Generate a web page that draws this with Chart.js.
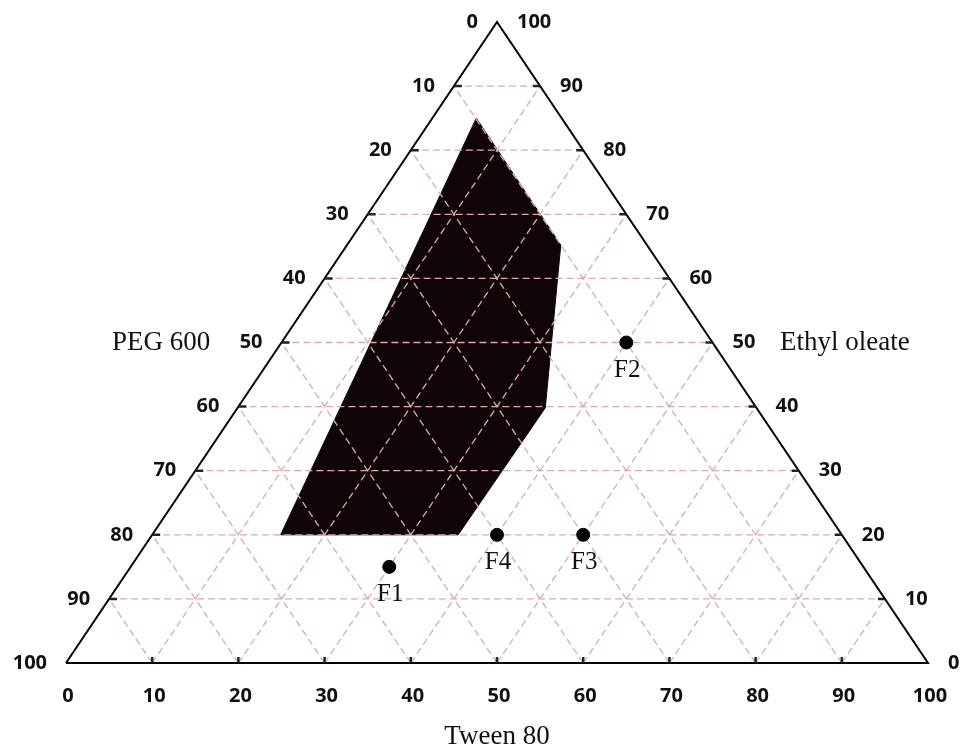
<!DOCTYPE html>
<html>
<head>
<meta charset="utf-8">
<script src="https://cdn.jsdelivr.net/npm/chart.js@4.4.1/dist/chart.umd.min.js"></script>
<style>
	body { margin: 0; background: #fff; }
	#wrap { width: 960px; height: 746px; }
</style>
</head>
<body>
<div id="wrap"><canvas id="ternaryChart" width="960" height="746"></canvas></div>
<script>
// tick levels on the three sides
const tickValues = [0, 10, 20, 30, 40, 50, 60, 70, 80, 90, 100];

// black region (x = Tween 80 reading, y = Ethyl oleate reading)
const regionTween = [47.6, 57.4, 55.6, 45.5, 24.9];
const regionEthyl = [85.0, 65.2, 39.8, 20.0, 20.0];

// formulations
const pointNames = ['F1', 'F2', 'F3', 'F4'];
const pointTween = [37.5, 65, 60, 50];
const pointEthyl = [15, 50, 20, 20];

const axisTitles = { left: 'PEG 600', right: 'Ethyl oleate', bottom: 'Tween 80' };

document.addEventListener('DOMContentLoaded', function() {
	const ctx = document.getElementById('ternaryChart').getContext('2d');

	// dashed grid: horizontal lines and the two diagonal families, split by gaps
	const gridData = [];
	const gap = { x: null, y: null };
	tickValues.slice(1, -1).forEach(v => {
		gridData.push({ x: v / 2, y: v }, { x: 100 - v / 2, y: v }, gap);
		gridData.push({ x: v, y: 0 }, { x: v + (100 - v) / 2, y: 100 - v }, gap);
		gridData.push({ x: v, y: 0 }, { x: v / 2, y: v }, gap);
	});

	const regionData = regionTween.map((x, i) => ({ x: x, y: regionEthyl[i] }));
	regionData.push(regionData[0]);

	const pointData = pointTween.map((x, i) => ({ x: x, y: pointEthyl[i] }));

	const labelPlugin = {
		id: 'ternaryLabels',
		afterDatasetsDraw(chart) {
			const c = chart.ctx;
			const xs = chart.scales.x, ys = chart.scales.y;
			const px = v => xs.getPixelForValue(v);
			const py = v => ys.getPixelForValue(v);
			c.save();

			// small ticks on the sides
			c.strokeStyle = '#222';
			c.lineWidth = 2.5;
			tickValues.slice(1, -1).forEach(v => {
				c.beginPath();
				c.moveTo(px(v / 2), py(v)); c.lineTo(px(v / 2) + 8, py(v));
				c.moveTo(px(100 - v / 2), py(v)); c.lineTo(px(100 - v / 2) - 7, py(v));
				c.moveTo(px(v), py(0)); c.lineTo(px(v), py(0) - 6);
				c.stroke();
			});

			// tick numbers
			c.fillStyle = '#111';
			c.font = 'bold 20px "Open Sans"';
			c.textBaseline = 'middle';
			tickValues.forEach(v => {
				c.textAlign = 'right';
				c.fillText(String(100 - v), px(v / 2) - 19, py(v));
				c.textAlign = 'left';
				c.fillText(String(v), px(100 - v / 2) + 20, py(v));
				c.textAlign = 'center';
				c.fillText(String(v), px(v) + 2, py(0) + 33);
			});

			// axis titles
			c.font = '27px "Liberation Serif"';
			c.textAlign = 'left';
			c.fillText(axisTitles.left, 112, py(50));
			c.fillText(axisTitles.right, 780, py(50));
			c.textAlign = 'center';
			c.textBaseline = 'alphabetic';
			c.fillText(axisTitles.bottom, px(50), 744);

			// formulation names under the dots
			c.font = '25px "Liberation Serif"';
			c.textBaseline = 'middle';
			const meta = chart.getDatasetMeta(3);
			meta.data.forEach((pt, i) => {
				c.fillText(pointNames[i], pt.x + 1, pt.y + 28);
			});
			c.restore();
		}
	};

	new Chart(ctx, {
		type: 'scatter',
		data: {
			datasets: [
				{
					type: 'line',
					label: 'region',
					data: regionData,
					fill: 'shape',
					backgroundColor: '#0f0507',
					borderColor: '#0f0507',
					borderWidth: 1,
					pointRadius: 0,
					tension: 0,
					order: 4
				},
				{
					type: 'line',
					label: 'grid',
					data: gridData,
					borderColor: '#dcaaaa',
					borderWidth: 1.3,
					borderDash: [7, 4],
					pointRadius: 0,
					spanGaps: false,
					fill: false,
					order: 3
				},
				{
					type: 'line',
					label: 'frame',
					data: [{ x: 0, y: 0 }, { x: 100, y: 0 }, { x: 50, y: 100 }, { x: 0, y: 0 }],
					borderColor: '#000',
					borderWidth: 2,
					pointRadius: 0,
					fill: false,
					clip: false,
					order: 2
				},
				{
					label: 'formulations',
					data: pointData,
					backgroundColor: '#000',
					borderColor: '#000',
					pointRadius: 6.5,
					order: 1
				}
			]
		},
		options: {
			responsive: false,
			animation: false,
			layout: { padding: { left: 66, right: 32, top: 22, bottom: 83 } },
			scales: {
				x: { type: 'linear', min: 0, max: 100, display: false },
				y: { type: 'linear', min: 0, max: 100, display: false }
			},
			plugins: {
				legend: { display: false },
				tooltip: { enabled: false }
			}
		},
		plugins: [labelPlugin]
	});
});
</script>
</body>
</html>
